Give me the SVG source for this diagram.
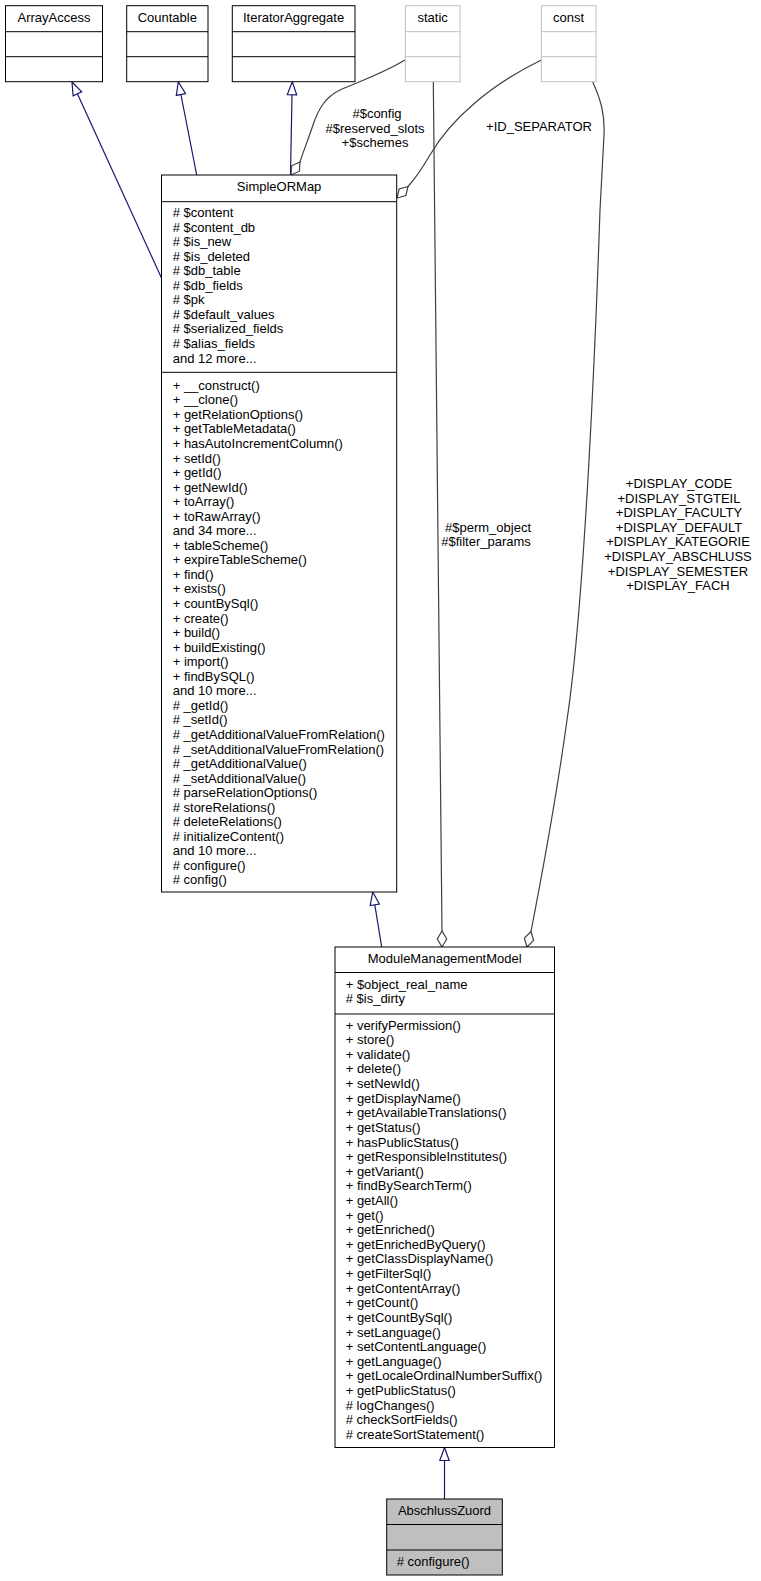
<svg xmlns="http://www.w3.org/2000/svg" width="761" height="1581" viewBox="0 0 761 1581">
<style>
text{font-family:"Liberation Sans",Arial,Helvetica,sans-serif;font-size:13px;fill:#000}
.c{text-anchor:middle}
.box{fill:#fff;stroke:#000;stroke-width:1}
.gbox{fill:#fff;stroke:#bfbfbf;stroke-width:1}
.cur{fill:#bfbfbf;stroke:#000;stroke-width:1}
.ln{stroke:#000;stroke-width:1}
.gln{stroke:#bfbfbf;stroke-width:1}
.inh{fill:none;stroke:#191970;stroke-width:1.2}
.inhh{fill:#fff;stroke:#191970;stroke-width:1.2}
.use{fill:none;stroke:#404040;stroke-width:1.2}
.useh{fill:#fff;stroke:#404040;stroke-width:1.2}
</style>
<rect width="761" height="1581" fill="#fff"/>

<g id="connectors">
  <!-- inheritance -->
  <line class="inh" x1="161.5" y1="278" x2="77.4" y2="93.8"/>
  <polygon class="inhh" points="72,82 81.7,91.9 73.1,95.8"/>
  <line class="inh" x1="196.7" y1="175" x2="180.9" y2="94.5"/>
  <polygon class="inhh" points="178.3,81.7 185.5,93.6 176.3,95.4"/>
  <line class="inh" x1="290.5" y1="175" x2="292" y2="94.7"/>
  <polygon class="inhh" points="292.3,81.7 296.7,94.8 287.3,94.6"/>
  <line class="inh" x1="381.7" y1="947" x2="374.8" y2="904.8"/>
  <polygon class="inhh" points="372.7,892 379.4,904 370.2,905.6"/>
  <line class="inh" x1="444.5" y1="1499" x2="444.5" y2="1460.5"/>
  <polygon class="inhh" points="444.5,1447.5 449.2,1460.5 439.8,1460.5"/>
  <!-- usage -->
  <path class="use" d="M405,60 C380,75 355,83 340,90 C325,97 318,110 313,125 C308,140 303,152 300,162"/>
  <polygon class="useh" points="291,175 299.4,171.2 300,162 291.6,165.8"/>
  <text class="c" x="377" y="118">#$config</text>
  <text class="c" x="375" y="132.5">#$reserved_slots</text>
  <text class="c" x="375" y="147">+$schemes</text>

  <path class="use" d="M541.3,60 C490,85 450,120 430,155 C420,172 414,180 408,186.5"/>
  <polygon class="useh" points="397,198 405.9,195.5 408,186.5 399.1,189"/>
  <text class="c" x="539" y="131">+ID_SEPARATOR</text>

  <path class="use" d="M433.3,82 L442,931"/>
  <polygon class="useh" points="442,947 446.7,939 442,931 437.3,939"/>
  <text class="c" x="488" y="531.5">#$perm_object</text>
  <text class="c" x="486" y="546">#$filter_params</text>

  <path class="use" d="M592.7,82 C601,100 605,115 604,135 L600,210 C596,330 585,600 567,720 C556,800 541,880 531,931.5"/>
  <polygon class="useh" points="527,947 533.6,940.4 531,931.5 524.4,938.1"/>
  <text class="c" x="679" y="488">+DISPLAY_CODE</text>
  <text class="c" x="679" y="502.6">+DISPLAY_STGTEIL</text>
  <text class="c" x="679" y="517.2">+DISPLAY_FACULTY</text>
  <text class="c" x="679" y="531.8">+DISPLAY_DEFAULT</text>
  <text class="c" x="678" y="546.4">+DISPLAY_KATEGORIE</text>
  <text class="c" x="678" y="561">+DISPLAY_ABSCHLUSS</text>
  <text class="c" x="678" y="575.6">+DISPLAY_SEMESTER</text>
  <text class="c" x="678" y="590.2">+DISPLAY_FACH</text>
</g>

<g id="ArrayAccess">
  <rect class="box" x="5.5" y="5.7" width="97" height="76"/>
  <line class="ln" x1="5.5" y1="31.7" x2="102.5" y2="31.7"/>
  <line class="ln" x1="5.5" y1="56.7" x2="102.5" y2="56.7"/>
  <text class="c" x="54" y="22">ArrayAccess</text>
</g>
<g id="Countable">
  <rect class="box" x="126.7" y="5.7" width="81.3" height="76"/>
  <line class="ln" x1="126.7" y1="31.7" x2="208" y2="31.7"/>
  <line class="ln" x1="126.7" y1="56.7" x2="208" y2="56.7"/>
  <text class="c" x="167.3" y="22">Countable</text>
</g>
<g id="IteratorAggregate">
  <rect class="box" x="232.3" y="5.7" width="122.7" height="76"/>
  <line class="ln" x1="232.3" y1="31.7" x2="355" y2="31.7"/>
  <line class="ln" x1="232.3" y1="56.7" x2="355" y2="56.7"/>
  <text class="c" x="293.6" y="22">IteratorAggregate</text>
</g>
<g id="static">
  <rect class="gbox" x="405.3" y="5.7" width="54.7" height="76"/>
  <line class="gln" x1="405.3" y1="31.7" x2="460" y2="31.7"/>
  <line class="gln" x1="405.3" y1="56.7" x2="460" y2="56.7"/>
  <text class="c" x="432.6" y="22">static</text>
</g>
<g id="const">
  <rect class="gbox" x="541.3" y="5.7" width="54.7" height="76"/>
  <line class="gln" x1="541.3" y1="31.7" x2="596" y2="31.7"/>
  <line class="gln" x1="541.3" y1="56.7" x2="596" y2="56.7"/>
  <text class="c" x="568.6" y="22">const</text>
</g>

<g id="SimpleORMap">
  <rect class="box" x="161.5" y="175" width="235.2" height="717"/>
  <line class="ln" x1="161.5" y1="201.7" x2="396.7" y2="201.7"/>
  <line class="ln" x1="161.5" y1="372.3" x2="396.7" y2="372.3"/>
  <text class="c" x="279.1" y="191.4">SimpleORMap</text>
  <text x="172.7">
    <tspan x="172.7" y="217"># $content</tspan>
    <tspan x="172.7" y="231.6"># $content_db</tspan>
    <tspan x="172.7" y="246.1"># $is_new</tspan>
    <tspan x="172.7" y="260.7"># $is_deleted</tspan>
    <tspan x="172.7" y="275.2"># $db_table</tspan>
    <tspan x="172.7" y="289.8"># $db_fields</tspan>
    <tspan x="172.7" y="304.3"># $pk</tspan>
    <tspan x="172.7" y="318.9"># $default_values</tspan>
    <tspan x="172.7" y="333.4"># $serialized_fields</tspan>
    <tspan x="172.7" y="348"># $alias_fields</tspan>
    <tspan x="172.7" y="362.5">and 12 more...</tspan>
  </text>
  <text x="172.7">
    <tspan x="172.7" y="389.7">+ __construct()</tspan>
    <tspan x="172.7" y="404.3">+ __clone()</tspan>
    <tspan x="172.7" y="418.8">+ getRelationOptions()</tspan>
    <tspan x="172.7" y="433.4">+ getTableMetadata()</tspan>
    <tspan x="172.7" y="447.9">+ hasAutoIncrementColumn()</tspan>
    <tspan x="172.7" y="462.5">+ setId()</tspan>
    <tspan x="172.7" y="477">+ getId()</tspan>
    <tspan x="172.7" y="491.6">+ getNewId()</tspan>
    <tspan x="172.7" y="506.1">+ toArray()</tspan>
    <tspan x="172.7" y="520.7">+ toRawArray()</tspan>
    <tspan x="172.7" y="535.2">and 34 more...</tspan>
    <tspan x="172.7" y="549.8">+ tableScheme()</tspan>
    <tspan x="172.7" y="564.3">+ expireTableScheme()</tspan>
    <tspan x="172.7" y="578.9">+ find()</tspan>
    <tspan x="172.7" y="593.4">+ exists()</tspan>
    <tspan x="172.7" y="608">+ countBySql()</tspan>
    <tspan x="172.7" y="622.5">+ create()</tspan>
    <tspan x="172.7" y="637.1">+ build()</tspan>
    <tspan x="172.7" y="651.6">+ buildExisting()</tspan>
    <tspan x="172.7" y="666.2">+ import()</tspan>
    <tspan x="172.7" y="680.7">+ findBySQL()</tspan>
    <tspan x="172.7" y="695.3">and 10 more...</tspan>
    <tspan x="172.7" y="709.8"># _getId()</tspan>
    <tspan x="172.7" y="724.4"># _setId()</tspan>
    <tspan x="172.7" y="738.9"># _getAdditionalValueFromRelation()</tspan>
    <tspan x="172.7" y="753.5"># _setAdditionalValueFromRelation()</tspan>
    <tspan x="172.7" y="768"># _getAdditionalValue()</tspan>
    <tspan x="172.7" y="782.6"># _setAdditionalValue()</tspan>
    <tspan x="172.7" y="797.1"># parseRelationOptions()</tspan>
    <tspan x="172.7" y="811.7"># storeRelations()</tspan>
    <tspan x="172.7" y="826.2"># deleteRelations()</tspan>
    <tspan x="172.7" y="840.8"># initializeContent()</tspan>
    <tspan x="172.7" y="855.3">and 10 more...</tspan>
    <tspan x="172.7" y="869.9"># configure()</tspan>
    <tspan x="172.7" y="884.4"># config()</tspan>
  </text>
</g>

<g id="ModuleManagementModel">
  <rect class="box" x="335" y="947" width="219.5" height="500.5"/>
  <line class="ln" x1="335" y1="972.5" x2="554.5" y2="972.5"/>
  <line class="ln" x1="335" y1="1014" x2="554.5" y2="1014"/>
  <text class="c" x="444.7" y="963.2">ModuleManagementModel</text>
  <text x="345.7">
    <tspan x="345.7" y="988.8">+ $object_real_name</tspan>
    <tspan x="345.7" y="1003"># $is_dirty</tspan>
  </text>
  <text x="345.7">
    <tspan x="345.7" y="1029.5">+ verifyPermission()</tspan>
    <tspan x="345.7" y="1044.1">+ store()</tspan>
    <tspan x="345.7" y="1058.7">+ validate()</tspan>
    <tspan x="345.7" y="1073.4">+ delete()</tspan>
    <tspan x="345.7" y="1088">+ setNewId()</tspan>
    <tspan x="345.7" y="1102.6">+ getDisplayName()</tspan>
    <tspan x="345.7" y="1117.2">+ getAvailableTranslations()</tspan>
    <tspan x="345.7" y="1131.8">+ getStatus()</tspan>
    <tspan x="345.7" y="1146.5">+ hasPublicStatus()</tspan>
    <tspan x="345.7" y="1161.1">+ getResponsibleInstitutes()</tspan>
    <tspan x="345.7" y="1175.7">+ getVariant()</tspan>
    <tspan x="345.7" y="1190.3">+ findBySearchTerm()</tspan>
    <tspan x="345.7" y="1204.9">+ getAll()</tspan>
    <tspan x="345.7" y="1219.6">+ get()</tspan>
    <tspan x="345.7" y="1234.2">+ getEnriched()</tspan>
    <tspan x="345.7" y="1248.8">+ getEnrichedByQuery()</tspan>
    <tspan x="345.7" y="1263.4">+ getClassDisplayName()</tspan>
    <tspan x="345.7" y="1278">+ getFilterSql()</tspan>
    <tspan x="345.7" y="1292.7">+ getContentArray()</tspan>
    <tspan x="345.7" y="1307.3">+ getCount()</tspan>
    <tspan x="345.7" y="1321.9">+ getCountBySql()</tspan>
    <tspan x="345.7" y="1336.5">+ setLanguage()</tspan>
    <tspan x="345.7" y="1351.1">+ setContentLanguage()</tspan>
    <tspan x="345.7" y="1365.8">+ getLanguage()</tspan>
    <tspan x="345.7" y="1380.4">+ getLocaleOrdinalNumberSuffix()</tspan>
    <tspan x="345.7" y="1395">+ getPublicStatus()</tspan>
    <tspan x="345.7" y="1409.6"># logChanges()</tspan>
    <tspan x="345.7" y="1424.2"># checkSortFields()</tspan>
    <tspan x="345.7" y="1438.9"># createSortStatement()</tspan>
  </text>
</g>

<g id="AbschlussZuord">
  <rect class="cur" x="386.7" y="1499" width="115.6" height="76"/>
  <line class="ln" x1="386.7" y1="1524.5" x2="502.3" y2="1524.5"/>
  <line class="ln" x1="386.7" y1="1550" x2="502.3" y2="1550"/>
  <text class="c" x="444.5" y="1514.8">AbschlussZuord</text>
  <text x="396.7" y="1566.2"># configure()</text>
</g>
</svg>
